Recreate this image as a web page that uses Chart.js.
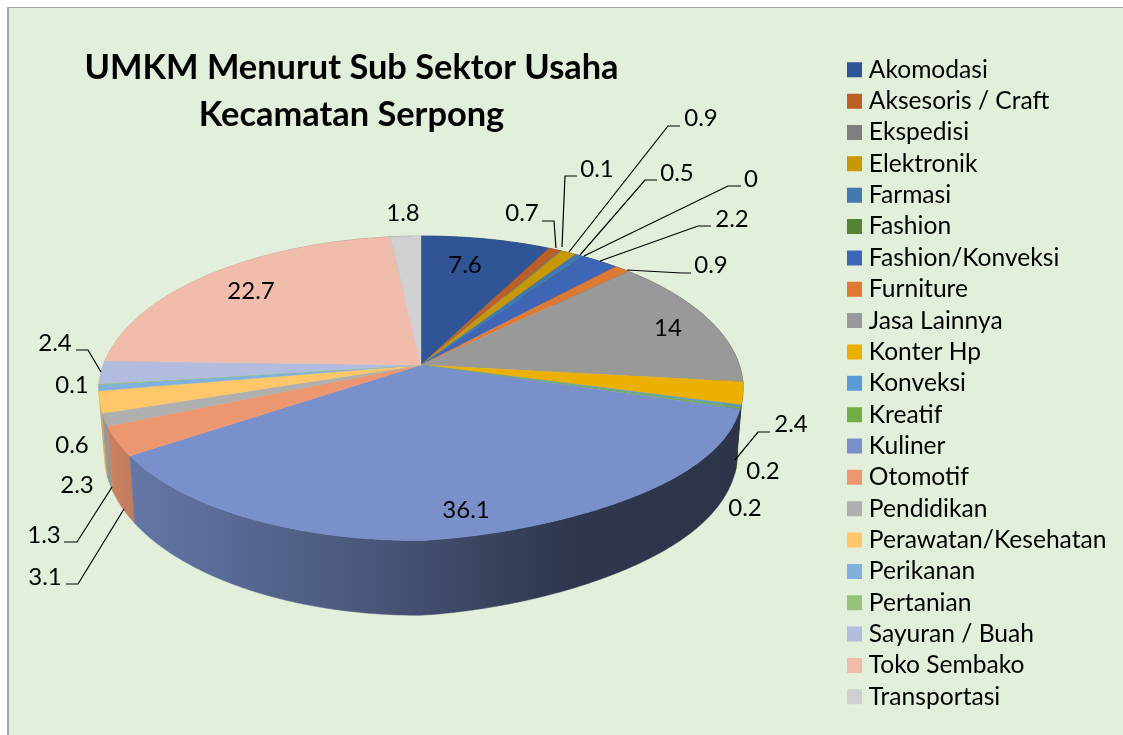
<!DOCTYPE html>
<html><head><meta charset="utf-8">
<style>html,body{margin:0;padding:0;background:#fff}canvas{display:block}</style>
<script src="https://cdn.jsdelivr.net/npm/chart.js@4"></script></head>
<body><canvas id="c" width="1123" height="735"></canvas>
<script>
const categories = ['Akomodasi','Aksesoris / Craft','Ekspedisi','Elektronik','Farmasi','Fashion','Fashion/Konveksi','Furniture','Jasa Lainnya','Konter Hp','Konveksi','Kreatif','Kuliner','Otomotif','Pendidikan','Perawatan/Kesehatan','Perikanan','Pertanian','Sayuran / Buah','Toko Sembako','Transportasi'];
const values = [7.6,0.7,0.1,0.9,0.5,0,2.2,0.9,14,2.4,0.2,0.2,36.1,3.1,1.3,2.3,0.6,0.1,2.4,22.7,1.8];
const sliceColors = ['#2F5597','#BB5F25','#7F7F7F','#C89800','#4379AE','#548235','#3F66B4','#DF7A35','#999999','#EBB000','#5B9BD5','#70AD47','#7A90CB','#EC9770','#AFAFAF','#FFC66A','#7FB0DE','#96C37B','#B2BCDE','#F0BDAD','#D0D0D0'];
const titleLines = ['UMKM Menurut Sub Sektor Usaha','Kecamatan Serpong'];

// layout only: label centre and optional leader path for each slice
const labelLayout = [
 {at:[465,265]},
 {at:[522,213],path:[[556,248],[554,221],[542,221]]},
 {at:[597,169],path:[[562,247],[565,176],[577,176]]},
 {at:[701,118],path:[[569,252],[668,126],[680,126]]},
 {at:[677,173],path:[[580,255],[645,180],[657,180]]},
 {at:[751,179],path:[[584,256],[728,186],[741,186]]},
 {at:[732,219],path:[[600,261],[698,226],[711,226]]},
 {at:[711,265],path:[[627,270],[682,273],[691,273]]},
 {at:[668,328]},
 {at:[791,424],path:[[735,460],[758,432],[770,432]]},
 {at:[763,471]},
 {at:[745,508]},
 {at:[466,510]},
 {at:[45,577],path:[[124,509],[78,584],[66,584]]},
 {at:[44,535],path:[[112,487],[77,542],[64,542]]},
 {at:[77,485]},
 {at:[72,445]},
 {at:[72,385]},
 {at:[55,343],path:[[101,372],[88,350],[76,350]]},
 {at:[251,291]},
 {at:[403,213]}
];
const PIE = {cx:421,cy:365,R:318,a:149.6,k:-0.16,shear:-1,warpA:2.5,warpB:20,wallSx:0.983,wallSy:1.057,wallD:62};
const WALL_SHADE = [[100,.87],[135,.82],[373,.6],[570,.38],[744,.36]];

function project(angle,warpA){
  const u=Math.cos(angle),v=Math.sin(angle),w=1+PIE.k*v;
  let y=(PIE.a*v+PIE.shear*u)/w;
  if(v>0){y-=warpA*v*v*v*v;if(u>0)y-=PIE.warpB*u*v*v*v;}
  return [PIE.R*u/w,y];
}
const topPt=a=>{const p=project(a,PIE.warpA);return [PIE.cx+p[0],PIE.cy+p[1]];};
const lowPt=a=>{const p=project(a,0);return [PIE.cx+p[0]*PIE.wallSx,PIE.cy+p[1]*PIE.wallSy+PIE.wallD];};
function shade(hex,f){
  const n=parseInt(hex.slice(1),16);
  return `rgb(${Math.round((n>>16&255)*f)},${Math.round((n>>8&255)*f)},${Math.round((n&255)*f)})`;
}
function sample(s,e){const out=[],n=Math.max(2,Math.ceil((e-s)/0.008));for(let i=0;i<=n;i++)out.push(s+(e-s)*i/n);return out;}

const pie3d = {
  id:'pie3d',
  beforeDraw(chart){
    const c=chart.ctx;
    c.save();
    c.fillStyle='#fff';c.fillRect(0,0,1123,735);
    c.fillStyle='#E2EFDA';c.fillRect(8,7,1115,728);
    c.fillStyle='#A6A6A6';c.fillRect(7,7,2,728);c.fillRect(7,7,1116,1);
    c.restore();
  },
  afterLayout(chart){
    const t=chart.titleBlock;t.left=0;t.right=703;t.top=44.5;t.bottom=138.5;
    const l=chart.legend;l.left=852.5-l.options.labels.padding;l.top=57.5-l.options.labels.padding;
  },
  beforeDatasetsDraw(chart){
    const c=chart.ctx,arcs=chart.getDatasetMeta(0).data;
    const order=arcs.map((el,i)=>i).sort((p,q)=>{
      const m=i=>Math.sin((arcs[i].startAngle+arcs[i].endAngle)/2);return m(p)-m(q);});
    c.save();
    for(const i of order){
      const el=arcs[i];if(el.endAngle-el.startAngle<=0)continue;
      const g=c.createLinearGradient(100,0,744,0);
      WALL_SHADE.forEach(([x,f])=>g.addColorStop((x-100)/644,shade(sliceColors[i],f)));
      const pts=sample(el.startAngle,el.endAngle);
      c.beginPath();
      pts.forEach((a,j)=>{const p=topPt(a);j?c.lineTo(p[0],p[1]):c.moveTo(p[0],p[1]);});
      pts.slice().reverse().forEach(a=>{const p=lowPt(a);c.lineTo(p[0],p[1]);});
      c.closePath();c.fillStyle=g;c.strokeStyle=g;c.lineWidth=.5;c.fill();c.stroke();
    }
    arcs.forEach((el,i)=>{
      if(el.endAngle-el.startAngle<=0)return;
      c.beginPath();c.moveTo(PIE.cx,PIE.cy);
      sample(el.startAngle,el.endAngle).forEach(a=>{const p=topPt(a);c.lineTo(p[0],p[1]);});
      c.closePath();c.fillStyle=sliceColors[i];c.strokeStyle=sliceColors[i];c.lineWidth=.4;c.fill();c.stroke();
    });
    c.restore();
    return false;
  },
  afterDraw(chart){
    const c=chart.ctx;
    c.save();
    c.strokeStyle='#000';c.lineWidth=1.2;
    c.fillStyle='#000';c.font='24px Lato';c.textAlign='center';c.textBaseline='middle';
    values.forEach((v,i)=>{
      const L=labelLayout[i];
      if(L.path){c.beginPath();L.path.forEach((p,j)=>j?c.lineTo(p[0],p[1]):c.moveTo(p[0],p[1]));c.stroke();}
      c.fillText(String(v),L.at[0],L.at[1]);
    });
    c.restore();
  }
};

new Chart(document.getElementById('c'),{
  type:'pie',
  data:{labels:categories,datasets:[{data:values,backgroundColor:sliceColors,borderWidth:0}]},
  plugins:[pie3d],
  options:{
    responsive:false,animation:false,
    plugins:{
      tooltip:{enabled:false},
      title:{display:true,text:titleLines,fullSize:false,color:'#000',padding:0,
        font:{family:'Lato',size:34.4,weight:'bold',lineHeight:1.37}},
      legend:{position:'right',align:'start',
        labels:{usePointStyle:true,pointStyle:'rect',boxWidth:4,boxHeight:15,padding:6.75,color:'#000',
          font:{family:'Lato',size:24.6}}}
    }
  }
});
</script></body></html>
